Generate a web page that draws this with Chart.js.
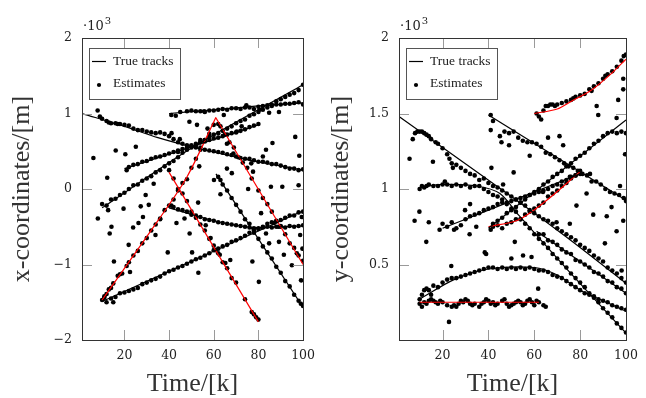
<!DOCTYPE html>
<html><head><meta charset="utf-8">
<script src="https://cdn.jsdelivr.net/npm/chart.js@4/dist/chart.umd.min.js"></script>
<style>
body{margin:0;background:#fff;width:646px;height:398px;overflow:hidden;position:relative}
#c1{position:absolute;left:0;top:0}
#c2{position:absolute;left:323px;top:0}
</style></head>
<body>
<canvas id="c1" width="323" height="398"></canvas>
<canvas id="c2" width="323" height="398"></canvas>
<script>
// ---------- tick labels ----------
const timeTicks = [20, 40, 60, 80, 100];
const xCoordTicks = [-2, -1, 0, 1, 2];
const yCoordTicks = [0.5, 1, 1.5, 2];

// ---------- LEFT: x-coordinates (x 10^3 m) ----------
const trueA_L = [[1,1.0],[20,0.83],[35,0.68],[50,0.56],[75,0.39],[100,0.25]];
const trueB_L = [[40,1.0],[60,1.05],[80,1.1],[100,1.14]];
const trueC_L = [[10,-0.25],[51,0.56],[100,1.38]];
const trueD_L = [[20,0.27],[80,0.85]];
const trueE_L = [[61,0.2],[100,-1.57]];
const trueF_L = [[40,-0.25],[48,-0.32],[60,-0.42],[70,-0.48],[78,-0.51],[90,-0.5],[100,-0.49]];
const trueG_L = [[10,-1.49],[100,-0.29]];
const red1_L = [[10,-1.47],[35,-0.42],[48,0.16],[61,0.95]];
const red2_L = [[61,0.94],[100,-1.0]];
const red3_L = [[40,0.22],[80,-1.76]];

const estA_L = [[8,1.04],[9,0.96],[10,0.93],[12,0.90],[13,0.88],[14,0.87],[16,0.87],[17,0.86],[18,0.86],[20,0.85],[22,0.84],[24,0.80],[26,0.78],[28,0.78],[30,0.76],[32,0.75],[34,0.74],[36,0.75],[38,0.73],[40,0.70],[42,0.66],[44,0.62],[46,0.60],[48,0.58],[50,0.57],[52,0.55],[54,0.55],[56,0.52],[58,0.51],[60,0.50],[62,0.49],[64,0.48],[66,0.46],[68,0.45],[70,0.43],[72,0.41],[74,0.40],[76,0.40],[78,0.38],[80,0.36],[82,0.36],[84,0.35],[86,0.33],[88,0.33],[90,0.31],[92,0.29],[94,0.27],[96,0.27],[98,0.25],[100,0.26]];
const estB_L = [[41,0.98],[43,0.97],[45,1.02],[48,1.03],[50,1.04],[52,1.03],[54,1.03],[56,1.02],[58,1.04],[60,1.04],[62,1.05],[64,1.06],[66,1.05],[68,1.07],[70,1.07],[72,1.06],[74,1.08],[76,1.08],[78,1.06],[80,1.09],[82,1.10],[84,1.11],[86,1.10],[88,1.12],[90,1.12],[92,1.13],[94,1.13],[96,1.14],[98,1.15],[100,1.12]];
const estC_L = [[10,-0.20],[12,-0.22],[14,-0.14],[16,-0.13],[18,-0.08],[20,-0.05],[22,0.00],[24,0.05],[26,0.06],[28,0.11],[30,0.14],[32,0.17],[34,0.22],[36,0.25],[38,0.30],[40,0.34],[42,0.37],[44,0.42],[46,0.48],[48,0.52],[50,0.55],[52,0.58],[54,0.62],[56,0.65],[58,0.69],[60,0.72],[62,0.74],[64,0.77],[66,0.80],[68,0.83],[70,0.87],[72,0.90],[74,0.92],[76,0.97],[78,0.99],[80,1.02],[82,1.05],[84,1.08],[86,1.12],[88,1.16],[90,1.19],[92,1.22],[94,1.25],[96,1.27],[98,1.31],[100,1.38]];
const estD_L = [[21,0.25],[22,0.29],[24,0.32],[26,0.33],[28,0.36],[30,0.37],[32,0.40],[34,0.42],[36,0.43],[38,0.45],[40,0.47],[42,0.49],[44,0.51],[46,0.53],[48,0.55],[50,0.58],[52,0.60],[54,0.62],[56,0.63],[58,0.65],[60,0.67],[62,0.68],[64,0.70],[66,0.72],[68,0.74],[70,0.75],[72,0.77],[74,0.79],[76,0.82],[78,0.84],[80,0.86]];
const estE_L = [[62,0.16],[63,0.12],[64,0.06],[66,-0.02],[68,-0.12],[70,-0.21],[72,-0.30],[74,-0.40],[76,-0.46],[78,-0.58],[80,-0.66],[82,-0.76],[84,-0.84],[86,-0.92],[88,-1.03],[90,-1.11],[92,-1.22],[94,-1.29],[96,-1.40],[98,-1.48],[99,-1.52],[100,-1.55]];
const estF_L = [[41,-0.22],[42,-0.24],[44,-0.27],[46,-0.28],[48,-0.30],[50,-0.34],[52,-0.35],[54,-0.37],[56,-0.40],[58,-0.41],[60,-0.42],[62,-0.44],[64,-0.45],[66,-0.46],[68,-0.47],[70,-0.48],[72,-0.49],[74,-0.50],[76,-0.51],[78,-0.52],[80,-0.52],[82,-0.51],[84,-0.50],[86,-0.51],[88,-0.50],[90,-0.50],[92,-0.51],[94,-0.49],[96,-0.50],[98,-0.49],[100,-0.48]];
const estG_L = [[10,-1.47],[11,-1.44],[12,-1.50],[14,-1.45],[15,-1.50],[16,-1.43],[18,-1.38],[20,-1.37],[22,-1.35],[24,-1.33],[26,-1.31],[28,-1.26],[30,-1.24],[32,-1.21],[34,-1.19],[36,-1.16],[38,-1.12],[40,-1.09],[42,-1.07],[44,-1.04],[46,-1.02],[48,-0.99],[50,-0.96],[52,-0.93],[54,-0.91],[56,-0.88],[58,-0.85],[60,-0.81],[62,-0.79],[64,-0.76],[66,-0.74],[68,-0.70],[70,-0.68],[72,-0.65],[74,-0.62],[76,-0.58],[78,-0.55],[80,-0.53],[82,-0.50],[84,-0.46],[86,-0.44],[88,-0.43],[90,-0.41],[92,-0.38],[94,-0.35],[96,-0.35],[98,-0.31],[100,-0.30]];
const estR1_L = [[11,-1.42],[12,-1.39],[13,-1.33],[14,-1.31],[15,-1.25],[17,-1.15],[18,-1.13],[19,-1.12],[21,-1.02],[22,-0.97],[24,-0.88],[26,-0.82],[28,-0.72],[30,-0.65],[32,-0.55],[34,-0.47],[36,-0.40],[38,-0.28],[40,-0.22],[42,-0.14],[44,-0.02],[46,0.08],[48,0.13],[50,0.28],[52,0.40],[54,0.52],[56,0.65],[58,0.73],[60,0.85]];
const estR2_L = [[62,0.86],[63,0.83],[65,0.72],[67,0.62],[69,0.55],[71,0.42],[73,0.35],[75,0.28],[77,0.14],[80,-0.02],[82,-0.12],[84,-0.20],[86,-0.30],[88,-0.42],[89,-0.50],[90,-0.49],[92,-0.60],[94,-0.72],[96,-0.78],[98,-0.88],[100,-0.95]];
const estR3_L = [[40,0.25],[42,0.14],[44,0.00],[46,-0.06],[48,-0.16],[50,-0.30],[52,-0.38],[54,-0.47],[56,-0.55],[58,-0.66],[60,-0.75],[62,-0.85],[64,-0.97],[66,-1.05],[68,-1.18],[70,-1.24],[74,-1.46],[77,-1.63],[78,-1.66],[79,-1.70],[80,-1.73]];
const clutter_L = [[6.1,0.41],[16.1,0.51],[20.4,0.46],[25.1,0.56],[12.3,0.15],[29.5,-0.08],[33.1,0.07],[41.1,0.74],[44.8,0.66],[49.1,0.89],[52.5,0.85],[57.2,0.80],[44,0.49],[53.5,0.30],[65.9,0.27],[68.1,0.21],[77.6,0.23],[86.3,0.61],[83.4,0.52],[96.5,0.69],[98.3,0.44],[98,0.05],[90.7,0.03],[85.6,0.03],[60.1,0.12],[63,-0.07],[75.4,0.0],[65.9,0.60],[70.3,0.76],[72.5,0.83],[80.5,1.05],[84.8,1.01],[89.2,1.02],[55.7,1.03],[64.5,0.98],[68.8,0.47],[76.8,0.34],[82,0.43],[74.6,1.11],[54,0.65],
[8.1,-0.39],[12.7,-0.28],[13.4,-0.59],[14.2,-0.50],[15.3,-0.96],[19.6,-0.26],[21.9,-0.74],[22.5,-1.10],[23.9,-0.51],[26.3,-0.45],[27.3,-0.23],[28.3,-0.37],[30.9,-0.21],[33.9,-0.61],[36,-0.39],[39.4,-0.84],[43.3,-0.45],[46.9,-0.39],[49.2,-0.59],[50.3,-0.84],[53.1,-1.11],[53,-0.18],[56.4,-0.48],[58.6,-0.65],[60.8,-0.81],[62.7,-0.87],[65.2,-0.98],[67.4,-0.94],[77.3,-0.96],[80.2,-1.23],[81.2,-0.32],[83.4,-0.59],[84.8,-0.72],[87,-0.45],[89.2,-0.70],[91.4,-0.87],[95,-1.01],[97.2,-0.85],[98.7,-0.61],[99.7,-0.79],[99.1,-1.21],[99.4,-0.37]];

// ---------- RIGHT: y-coordinates (x 10^3 m) ----------
const trueA_R = [[1,1.48],[50,0.95],[75,0.67],[100,0.375]];
const trueB_R = [[40,1.49],[100,0.925]];
const trueC_R = [[10,1.01],[20,1.03],[35,1.02],[45,0.97],[53,0.83],[76,0.44],[100,0.045]];
const trueD_R = [[20,0.74],[40,0.86],[80,1.1]];
const trueE_R = [[61,0.72],[100,0.31]];
const trueF_R = [[40,0.74],[100,1.457]];
const trueG_R = [[10,0.27],[25,0.40],[40,0.47],[60,0.48],[70,0.43],[80,0.33],[90,0.26],[100,0.19]];
const red1_R = [[10,0.25],[62,0.25]];
const red2_R = [[60,1.5],[70,1.53],[76,1.58],[85,1.656],[94,1.77],[100,1.86]];
const red3_R = [[40,0.75],[53,0.795],[65,0.92],[80,1.115]];

const estA_R = [[7,1.33],[8,1.37],[9,1.38],[10,1.38],[11,1.38],[12,1.37],[13,1.36],[14,1.35],[15,1.33],[17,1.31],[18,1.30],[20,1.27],[22,1.23],[23,1.20],[24,1.17],[26,1.16],[28,1.14],[30,1.12],[32,1.10],[34,1.09],[36,1.06],[38,1.07],[40,1.04],[42,1.02],[44,1.01],[46,0.99],[48,0.97],[50,0.95],[52,0.93],[54,0.91],[56,0.89],[58,0.86],[60,0.84],[62,0.82],[64,0.80],[66,0.79],[68,0.77],[70,0.74],[72,0.72],[74,0.70],[76,0.68],[78,0.66],[80,0.63],[82,0.61],[84,0.59],[86,0.56],[88,0.54],[90,0.52],[92,0.48],[94,0.46],[96,0.44],[98,0.41],[100,0.38]];
const estB_R = [[41,1.49],[42,1.45],[45,1.35],[47,1.38],[49,1.37],[51,1.38],[53,1.34],[55,1.32],[57,1.31],[59,1.31],[61,1.30],[63,1.28],[65,1.24],[67,1.23],[69,1.21],[71,1.19],[73,1.17],[75,1.15],[77,1.14],[79,1.12],[81,1.10],[83,1.09],[85,1.05],[87,1.05],[89,1.03],[91,1.00],[93,0.98],[95,0.97],[97,0.96],[99,0.94],[100,0.92]];
const estC_R = [[10,1.00],[11,1.02],[12,1.01],[13,1.02],[14,1.03],[16,1.02],[18,1.02],[20,1.03],[21,1.05],[22,1.03],[24,1.02],[26,1.03],[28,1.02],[30,1.03],[32,1.01],[34,1.02],[36,1.02],[38,1.00],[40,0.98],[42,0.96],[44,0.95],[46,0.93],[48,0.90],[50,0.87],[52,0.85],[54,0.80],[56,0.77],[58,0.74],[60,0.70],[62,0.67],[64,0.64],[66,0.61],[68,0.57],[70,0.54],[72,0.51],[74,0.48],[76,0.44],[78,0.41],[80,0.38],[82,0.35],[84,0.31],[86,0.28],[88,0.25],[90,0.21],[92,0.18],[94,0.15],[96,0.11],[98,0.08],[100,0.05]];
const estD_R = [[20,0.77],[22,0.75],[24,0.78],[25,0.73],[26,0.74],[28,0.76],[30,0.80],[32,0.82],[34,0.83],[36,0.84],[38,0.86],[40,0.87],[42,0.88],[44,0.90],[46,0.91],[48,0.91],[50,0.92],[52,0.93],[54,0.94],[56,0.95],[58,0.96],[60,0.97],[62,0.98],[64,0.99],[66,1.00],[68,1.02],[70,1.03],[72,1.05],[74,1.06],[76,1.08],[78,1.09],[80,1.10]];
const estE_R = [[62,0.70],[64,0.70],[66,0.66],[68,0.65],[70,0.63],[72,0.60],[74,0.58],[76,0.57],[78,0.53],[80,0.52],[82,0.50],[84,0.48],[86,0.45],[88,0.44],[90,0.42],[92,0.39],[94,0.38],[96,0.35],[98,0.34],[100,0.31]];
const estF_R = [[42,0.77],[44,0.79],[46,0.81],[48,0.84],[50,0.86],[52,0.88],[54,0.91],[56,0.93],[58,0.96],[60,0.98],[62,1.00],[64,1.03],[66,1.05],[68,1.08],[70,1.10],[72,1.12],[74,1.15],[76,1.17],[78,1.20],[80,1.22],[82,1.24],[84,1.27],[86,1.30],[88,1.32],[90,1.35],[92,1.37],[94,1.38],[96,1.37],[98,1.38],[100,1.37]];
const estG_R = [[10,0.27],[11,0.30],[12,0.33],[13,0.34],[14,0.33],[15,0.30],[16,0.36],[18,0.35],[20,0.38],[22,0.40],[24,0.41],[26,0.41],[28,0.42],[30,0.43],[32,0.44],[34,0.45],[36,0.46],[38,0.47],[40,0.48],[42,0.48],[44,0.47],[46,0.48],[48,0.47],[50,0.48],[52,0.47],[54,0.48],[56,0.47],[58,0.48],[60,0.47],[62,0.46],[64,0.46],[66,0.45],[68,0.43],[70,0.42],[72,0.41],[74,0.39],[76,0.37],[78,0.35],[80,0.33],[82,0.31],[84,0.30],[86,0.29],[88,0.27],[90,0.26],[92,0.25],[94,0.23],[96,0.22],[98,0.21],[100,0.20]];
const estR1_R = [[10,0.24],[11,0.22],[12,0.25],[13,0.24],[14,0.26],[15,0.27],[16,0.26],[17,0.25],[18,0.24],[19,0.26],[20,0.25],[22,0.23],[24,0.22],[25,0.23],[26,0.22],[27,0.24],[28,0.26],[29,0.25],[30,0.27],[31,0.26],[32,0.24],[33,0.23],[34,0.24],[36,0.22],[37,0.24],[38,0.25],[39,0.27],[40,0.26],[41,0.24],[42,0.25],[43,0.23],[44,0.24],[46,0.26],[47,0.27],[48,0.24],[49,0.22],[50,0.23],[51,0.24],[52,0.25],[53,0.26],[54,0.25],[55,0.23],[56,0.24],[57,0.26],[58,0.27],[59,0.25],[60,0.23],[61,0.26],[62,0.25],[64,0.23],[65,0.22]];
const estR2_R = [[61,1.50],[62,1.48],[63,1.46],[64,1.52],[65,1.55],[66,1.55],[67,1.56],[68,1.56],[69,1.55],[70,1.56],[72,1.57],[74,1.58],[76,1.59],[77,1.60],[78,1.61],[80,1.62],[82,1.63],[84,1.66],[85,1.65],[86,1.68],[88,1.70],[90,1.73],[91,1.75],[92,1.76],[94,1.78],[96,1.81],[98,1.85],[99,1.88],[100,1.89]];
const estR3_R = [[41,0.73],[42,0.75],[44,0.76],[46,0.74],[48,0.77],[50,0.78],[52,0.80],[54,0.80],[56,0.83],[58,0.85],[60,0.87],[62,0.89],[64,0.91],[66,0.95],[68,0.97],[70,0.99],[72,1.02],[74,1.04],[76,1.07],[78,1.09],[80,1.12]];
const clutter_R = [[5.6,1.20],[15.8,1.18],[24.5,1.14],[41,1.39],[41.3,1.14],[45.7,1.31],[49,1.29],[51,1.11],[58,1.22],[71,1.35],[72.6,1.29],[75.5,1.08],[87.2,1.55],[87.9,1.49],[95.9,1.47],[96.6,1.59],[98.8,1.66],[98.8,1.73],[99.6,1.23],[97.4,1.02],[84.3,1.10],[82.8,0.97],[63.8,0.98],[66,1.34],[46.4,1.03],
[7.8,0.79],[9.9,0.85],[14,0.78],[12.9,0.65],[18.7,0.73],[22.8,0.12],[23.8,0.49],[31.8,0.70],[34.7,0.75],[38.4,0.58],[50,0.54],[51.5,0.65],[55.1,0.56],[58.8,0.55],[61.7,0.34],[78.4,0.89],[85.7,0.83],[90.8,0.64],[91.6,0.82],[95.9,0.72],[98.1,0.46],[93.7,0.88],[98.8,0.79],[75.5,0.77],[69.7,0.78],[39,0.57],[32,0.90],[29.8,0.86]];

// ---------- drawing ----------
const pts = a => a.map(([x, y]) => ({x, y}));
const lineDs = (d, c, tension) => ({data: pts(d), showLine: true, pointRadius: 0, borderColor: c, borderWidth: 1.2, tension: tension || 0, order: 0});
const dotDs = d => ({data: pts(d), showLine: false, pointRadius: 2.3, pointBorderWidth: 0, backgroundColor: '#000', borderColor: '#000', order: 1});

const decor = {
  id: 'decor',
  afterDraw(chart, args, o) {
    const {ctx, chartArea: a, scales: {x, y}} = chart;
    ctx.save();
    const TL = 10;
    ctx.strokeStyle = '#9a9a9a'; ctx.lineWidth = 1;
    ctx.beginPath();
    x.ticks.forEach(t => {
      const p = Math.round(x.getPixelForValue(t.value)) + 0.5;
      if (p > a.right - 2 || p < a.left + 2) return;
      ctx.moveTo(p, a.bottom); ctx.lineTo(p, a.bottom - TL);
      ctx.moveTo(p, a.top); ctx.lineTo(p, a.top + TL);
    });
    y.ticks.forEach(t => {
      const p = Math.round(y.getPixelForValue(t.value)) + 0.5;
      if (p > a.bottom - 2 || p < a.top + 2) return;
      ctx.moveTo(a.left, p); ctx.lineTo(a.left + TL, p);
      ctx.moveTo(a.right, p); ctx.lineTo(a.right - TL, p);
    });
    ctx.stroke();
    ctx.strokeStyle = '#333';
    ctx.strokeRect(Math.round(a.left) + 0.5, Math.round(a.top) + 0.5, Math.round(a.right - a.left), Math.round(a.bottom - a.top));
    // exponent label
    ctx.fillStyle = '#222';
    ctx.textBaseline = 'alphabetic'; ctx.textAlign = 'left';
    ctx.font = '13px "DejaVu Serif"';
    ctx.fillText('\u00b710', a.left + 1, 30);
    const w = ctx.measureText('\u00b710').width;
    ctx.font = '10px "DejaVu Serif"';
    ctx.fillText('3', a.left + 1 + w + 1, 24);
    // axis titles
    ctx.fillStyle = '#333';
    ctx.font = '26px "Liberation Serif"';
    ctx.textAlign = 'center'; ctx.textBaseline = 'middle';
    ctx.fillText('Time/[k]', (a.left + a.right) / 2, 384);
    ctx.save();
    ctx.translate(o.ytx, (a.top + a.bottom) / 2);
    ctx.rotate(-Math.PI / 2);
    ctx.fillText(o.ytitle, 0, 0);
    ctx.restore();
    // legend
    const lx = a.left + 7, ly = a.top + 10, lw = 91, lh = 51;
    ctx.fillStyle = '#fff';
    ctx.fillRect(lx, ly, lw, lh);
    ctx.strokeStyle = '#555';
    ctx.strokeRect(lx + 0.5, ly + 0.5, lw, lh);
    ctx.strokeStyle = '#000'; ctx.lineWidth = 1.2;
    ctx.beginPath(); ctx.moveTo(lx + 3, ly + 13.5); ctx.lineTo(lx + 17, ly + 13.5); ctx.stroke();
    ctx.fillStyle = '#000';
    ctx.beginPath(); ctx.arc(lx + 10, ly + 37, 2.1, 0, Math.PI * 2); ctx.fill();
    ctx.fillStyle = '#222';
    ctx.font = '13.5px "Liberation Serif"';
    ctx.textAlign = 'left'; ctx.textBaseline = 'middle';
    ctx.fillText('True tracks', lx + 24, ly + 13);
    ctx.fillText('Estimates', lx + 24, ly + 35);
    ctx.restore();
  }
};

function makeChart(id, lines, dots, yMin, yMax, yTicks, yw, padRight, ytitle, ytx) {
  const fmt = v => (v < 0 ? '\u2212' + Math.abs(v) : String(v));
  return new Chart(document.getElementById(id), {
    type: 'scatter',
    data: {datasets: [...lines, ...dots]},
    options: {
      responsive: false, animation: false, devicePixelRatio: 1,
      layout: {padding: {top: 38, right: padRight, left: 0, bottom: 0}},
      plugins: {legend: {display: false}, tooltip: {enabled: false}, decor: {ytitle, ytx}},
      scales: {
        x: {
          type: 'linear', min: 1, max: 100,
          grid: {display: false, drawTicks: false}, border: {display: false},
          afterBuildTicks: s => { s.ticks = timeTicks.map(v => ({value: v})); },
          afterFit: s => { s.height = 58; },
          ticks: {padding: 8, color: '#222', font: {family: 'DejaVu Serif', size: 12.5}, maxRotation: 0, callback: fmt}
        },
        y: {
          type: 'linear', min: yMin, max: yMax,
          grid: {display: false, drawTicks: false}, border: {display: false},
          afterBuildTicks: s => { s.ticks = yTicks.map(v => ({value: v})); },
          afterFit: s => { s.width = yw; },
          ticks: {padding: 10, color: '#222', font: {family: 'DejaVu Serif', size: 12.5}, callback: fmt}
        }
      }
    },
    plugins: [decor]
  });
}

makeChart('c1',
  [lineDs(trueA_L, '#000', 0.3), lineDs(trueB_L, '#000', 0.3), lineDs(trueC_L, '#000', 0.3), lineDs(trueD_L, '#000'),
   lineDs(trueE_L, '#000'), lineDs(trueF_L, '#000', 0.3), lineDs(trueG_L, '#000'),
   lineDs(red1_L, '#f00', 0.3), lineDs(red2_L, '#f00'), lineDs(red3_L, '#f00')],
  [dotDs([...estA_L, ...estB_L, ...estC_L, ...estD_L, ...estE_L, ...estF_L, ...estG_L, ...estR1_L, ...estR2_L, ...estR3_L, ...clutter_L])],
  -2, 2, xCoordTicks, 82, 15, 'x-coordinates/[m]', 22);

makeChart('c2',
  [lineDs(trueA_R, '#000', 0.3), lineDs(trueB_R, '#000'), lineDs(trueC_R, '#000', 0.3), lineDs(trueD_R, '#000', 0.3),
   lineDs(trueE_R, '#000'), lineDs(trueF_R, '#000'), lineDs(trueG_R, '#000', 0.3),
   lineDs(red1_R, '#f00'), lineDs(red2_R, '#f00', 0.3), lineDs(red3_R, '#f00', 0.3)],
  [dotDs([...estA_R, ...estB_R, ...estC_R, ...estD_R, ...estE_R, ...estF_R, ...estG_R, ...estR1_R, ...estR2_R, ...estR3_R, ...clutter_R])],
  0, 2, yCoordTicks, 76, 20, 'y-coordinates/[m]', 18);
</script>
</body></html>
